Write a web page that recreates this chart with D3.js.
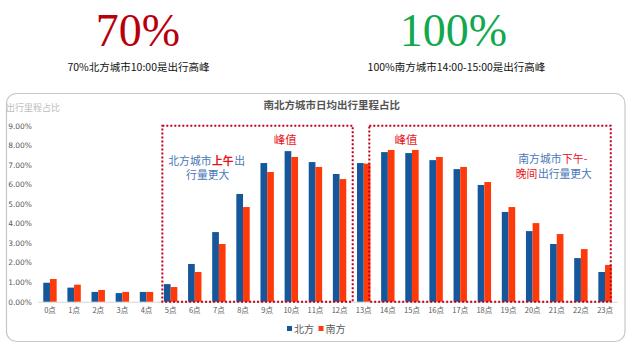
<!DOCTYPE html>
<html><head><meta charset="utf-8">
<script src="https://cdn.jsdelivr.net/npm/d3@7/dist/d3.min.js"></script>
<style>
html,body{margin:0;padding:0;background:#fff;}
svg{display:block;font-family:"Noto Sans CJK SC","Noto Sans",sans-serif;}
</style></head><body>
<script>
const categories = ["0点","1点","2点","3点","4点","5点","6点","7点","8点","9点","10点","11点","12点","13点","14点","15点","16点","17点","18点","19点","20点","21点","22点","23点"];
const seriesNames = ["北方","南方"];
const northValues = [0.97,0.72,0.50,0.44,0.50,0.90,1.93,3.56,5.51,7.09,7.70,7.14,6.53,7.09,7.65,7.60,7.24,6.78,5.97,4.59,3.61,2.95,2.23,1.52];
const southValues = [1.16,0.87,0.60,0.50,0.50,0.75,1.52,2.95,4.84,6.63,7.40,6.89,6.27,7.06,7.76,7.76,7.40,6.89,6.12,4.84,4.02,3.46,2.69,1.88];
const yTicks = [0,1,2,3,4,5,6,7,8,9];
const colors = {"北方":"#15579a","南方":"#ff3a0a"};

const W=635,H=350;
const svg=d3.select("body").append("svg").attr("width",W).attr("height",H);

// Headline texts
svg.append("text").attr("x",138).attr("y",46).attr("text-anchor","middle")
  .attr("font-family","'Liberation Serif','Times New Roman',serif").attr("font-size",46).attr("fill","#b8000c").text("70%");
svg.append("text").attr("x",138.5).attr("y",71).attr("text-anchor","middle")
  .attr("font-size",10.5).attr("fill","#111").text("70%北方城市10:00是出行高峰");
svg.append("text").attr("x",453.5).attr("y",46).attr("text-anchor","middle")
  .attr("font-family","'Liberation Serif','Times New Roman',serif").attr("font-size",46).attr("fill","#12a84e").text("100%");
svg.append("text").attr("x",456.5).attr("y",71).attr("text-anchor","middle")
  .attr("font-size",10.5).attr("fill","#111").text("100%南方城市14:00-15:00是出行高峰");

// Panel
svg.append("rect").attr("x",6.5).attr("y",93.5).attr("width",618.5).attr("height",248)
  .attr("rx",10).attr("ry",10).attr("fill","#fff").attr("stroke","#c8c8c8").attr("stroke-width",1.2);

svg.append("text").attr("x",331.7).attr("y",109).attr("text-anchor","middle")
  .attr("font-size",10.5).attr("font-weight","bold").attr("fill","#555").text("南北方城市日均出行里程占比");
svg.append("text").attr("x",6).attr("y",111).attr("font-size",9).attr("fill","#bdbdbd").text("出行里程占比");

// Scales
const x=d3.scaleBand().domain(categories).range([37.9,617.1]).padding(0);
const groupW=13.4;
const x1=d3.scaleBand().domain(seriesNames).range([(x.bandwidth()-groupW)/2,(x.bandwidth()+groupW)/2]).padding(0);
const y=d3.scaleLinear().domain([0,9]).range([301.7,125.7]);

// Y axis labels
const yAxis=d3.axisLeft(y).tickValues(yTicks).tickSize(0).tickPadding(0).tickFormat(d=>d3.format(".2f")(d)+"%");
const ya=svg.append("g").attr("transform","translate(32,0)").call(yAxis);
ya.select(".domain").remove();
ya.selectAll("text").attr("font-size",7.5).attr("fill","#595959").attr("font-family","'DejaVu Sans',sans-serif");

// X axis
const xAxis=d3.axisBottom(x).tickSize(0).tickPadding(6);
const xa=svg.append("g").attr("transform",`translate(0,${y(0)})`).call(xAxis);
xa.select(".domain").attr("stroke","#d6d6d6");
xa.selectAll("text").attr("font-size",7.5).attr("fill","#595959").attr("font-family","'Noto Sans CJK SC',sans-serif");

// Bars
const rows=categories.map((c,i)=>({c,vals:[{s:"北方",v:northValues[i]},{s:"南方",v:southValues[i]}]}));
const g=svg.append("g");
g.selectAll("g").data(rows).join("g").attr("transform",d=>`translate(${x(d.c)},0)`)
  .selectAll("rect").data(d=>d.vals).join("rect")
  .attr("x",d=>x1(d.s)).attr("width",x1.bandwidth())
  .attr("y",d=>y(d.v)).attr("height",d=>y(0)-y(d.v)).attr("fill",d=>colors[d.s]);

// Dotted boxes
const cx=c=>x(c)+x.bandwidth()/2;
const boxStyle=sel=>sel.attr("fill","none").attr("stroke","#c0001a").attr("stroke-width",2).attr("stroke-dasharray","2,2");
svg.append("rect").attr("x",cx("5点")-8.3).attr("y",y(9)).attr("width",(cx("13点")-11)-(cx("5点")-8.3)).attr("height",y(0)-y(9)).call(boxStyle);
svg.append("rect").attr("x",cx("13点")+5.6).attr("y",y(9)).attr("width",(cx("23点")+5.7)-(cx("13点")+5.6)).attr("height",y(0)-y(9)).call(boxStyle);

// Annotations
svg.append("text").attr("x",cx("10点")-6).attr("y",144).attr("text-anchor","middle").attr("font-size",11.5).attr("fill","#e8141c").text("峰值");
svg.append("text").attr("x",cx("15点")-6).attr("y",144).attr("text-anchor","middle").attr("font-size",11.5).attr("fill","#e8141c").text("峰值");

const blue="#4a78b8", red="#e8141c";
// Sequential text segments placed side by side (measured widths)
function segLine(parts, startX, yy){
  let cur=startX;
  parts.forEach(p=>{
    const t=svg.append("text").attr("x",cur).attr("y",yy).attr("font-size",10.8).attr("fill",p.c).text(p.t);
    if(p.b) t.attr("font-weight","bold");
    cur+=t.node().getComputedTextLength()+0.6;
  });
}
segLine([{t:"北方城市",c:blue},{t:"上午",c:red,b:true},{t:"出",c:blue}],168.3,164.5);
svg.append("text").attr("x",207.7).attr("y",178.5).attr("text-anchor","middle").attr("font-size",10.8).attr("fill",blue).text("行量更大");
segLine([{t:"南方城市",c:blue},{t:"下午-",c:red}],518.3,162.5);
segLine([{t:"晚间",c:red},{t:"出行量更大",c:blue}],515.7,177.5);

// Legend
const leg=svg.append("g");
seriesNames.forEach((s,i)=>{
  const lx=i===0?287:318.5;
  leg.append("rect").attr("x",lx).attr("y",326).attr("width",5).attr("height",5).attr("fill",colors[s]);
  leg.append("text").attr("x",lx+7).attr("y",332.5).attr("font-size",10).attr("fill","#595959").text(s);
});
</script>
</body></html>
